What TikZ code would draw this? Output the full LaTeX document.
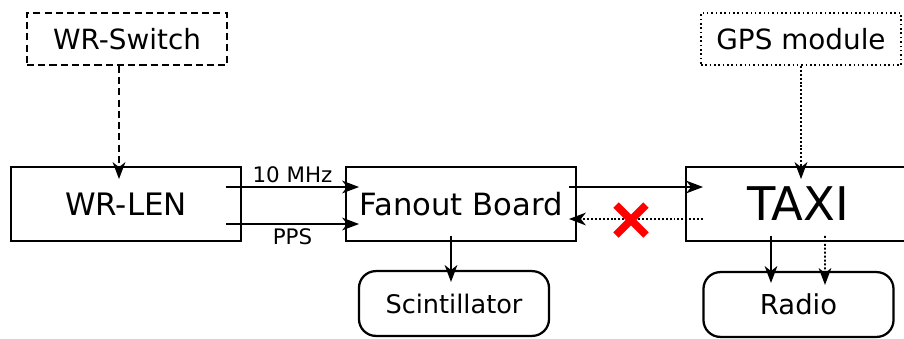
\documentclass[tikz,border=0pt]{standalone}
\usepackage{fontspec}
\setmainfont{DejaVu Sans}
\usetikzlibrary{arrows.meta}
\tikzset{
  block/.style={draw, line width=1.3pt, minimum width=5.75cm, minimum height=1.85cm, inner sep=0pt},
  endbox/.style={draw, line width=1.6pt, rounded corners=12pt, minimum width=4.75cm, minimum height=1.62cm, inner sep=0pt},
  srcbox/.style={draw, line width=1.1pt, minimum width=5cm, minimum height=1.3cm, inner sep=0pt},
  sig/.style={line width=1.4pt, -{Stealth[length=12pt,width=9pt,inset=3.5pt]}},
  dots/.style={dash pattern=on 1.4pt off 1.4pt},
}
\begin{document}
\begin{tikzpicture}[x=0.025cm, y=-0.025cm]
   \useasboundingbox (0,0) rectangle (904,338);

   \node[srcbox, dashed, dash pattern=on 5pt off 3pt] (wrs) at (127,39) {\fontsize{19.8}{22}\selectfont WR-Switch};
   \node[srcbox, dotted] (gps) at (801,39) {\fontsize{19.8}{22}\selectfont GPS module};

   \node[block] (len) at (126,204) {\fontsize{22}{26}\selectfont WR-LEN};
   \node[block] (fan) at (461,204) {\fontsize{21.8}{26}\selectfont Fanout Board};
   \node[block] (taxi) at (801,204) {\fontsize{33}{38}\selectfont \hspace*{-4pt}TAXI};

   \node[endbox] (sci) at (454,303.5) {\fontsize{18.2}{22}\selectfont Scintillator};
   \node[endbox] (radio) at (798.5,304.5) {\fontsize{19.5}{22}\selectfont Radio};

   \draw[sig, dash pattern=on 5pt off 3pt] ([shift={(-8,0)}]wrs.south) -- ([shift={(-7,13)}]len.north);
   \draw[sig, dots] (gps.south) -- ([shift={(0,13)}]taxi.north);

   \draw[sig] ([shift={(-16,-17)}]len.east) -- node[above=-1pt]{\fontsize{15.2}{18}\selectfont 10 MHz} ([shift={(14,-17)}]fan.west);
   \draw[sig] ([shift={(-16,20)}]len.east) -- node[below=-1pt]{\fontsize{15.2}{18}\selectfont PPS} ([shift={(14,20)}]fan.west);

   \draw[sig] ([shift={(-8,-17)}]fan.east) -- ([shift={(18,-17)}]taxi.west);
   \draw[sig, dots] ([shift={(18,15)}]taxi.west) -- ([shift={(-8,15)}]fan.east);

   \draw[sig] ([shift={(-10,-6)}]fan.south) -- ([shift={(-3,12)}]sci.north);
   \draw[sig] ([shift={(-30,-6)}]taxi.south) -- ([shift={(-27.5,12)}]radio.north);
   \draw[sig, dots] ([shift={(24,-6)}]taxi.south) -- ([shift={(26.5,14)}]radio.north);

   \draw[red, line width=5.5pt] (616,205) -- (646,235) (646,205) -- (616,235);
 \end{tikzpicture}
\end{document}
